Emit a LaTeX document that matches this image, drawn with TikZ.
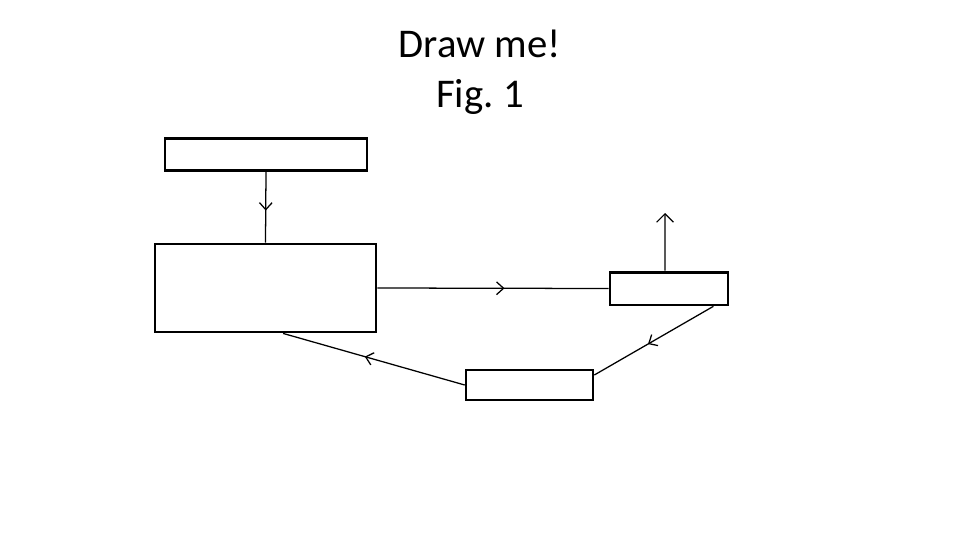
\documentclass[tikz,border=0pt]{standalone}
\usepackage{fontspec}
\setmainfont{Carlito}
\usetikzlibrary{arrows.meta, decorations.markings}

\tikzset{
	box/.style={draw, line width=2pt, inner sep=0pt},
	flow/.style={line width=0.9pt, postaction={decorate},
		decoration={markings, mark=at position 0.55 with {\arrow{Straight Barb[length=5pt, width=9pt, line width=0.9pt]}}}},
}

\begin{document}
\begin{tikzpicture}[x=0.025cm, y=-0.025cm]
		\useasboundingbox (0,0) rectangle (960,540);
		
		% Title
		\node[align=center, font=\fontsize{29}{35.5}\selectfont] (title) at (480,72) {Draw me!\\Fig.\ 1};
		
		% Boxes
		\node[box, minimum width=5.05cm, minimum height=0.78cm] (input) at (266,154.5) {};
		\node[box, minimum width=5.52cm, minimum height=2.2cm] (main) at (265.5,288) {};
		\node[box, minimum width=2.95cm, minimum height=0.82cm] (output) at (669,288.5) {};
		\node[box, minimum width=3.17cm, minimum height=0.75cm] (back) at (529.5,385) {};
		\coordinate (top) at (665,213);
		
		% Connectors
		\draw[flow] (input.south) -- (main.north);
		\draw[flow] (main.east) -- (output.west);
		\draw[flow] ([xshift=-0.4cm]output.south east) -- ([yshift=0.25cm]back.east);
		\draw[flow] (back.west) -- ([xshift=0.44cm]main.south);
		\draw[line width=0.8pt, -{Straight Barb[length=6pt, width=12pt, line width=0.8pt]}] ([xshift=-0.1cm]output.north) -- (top);
	\end{tikzpicture}
\end{document}
